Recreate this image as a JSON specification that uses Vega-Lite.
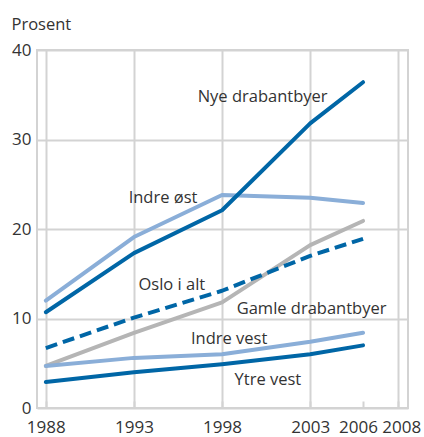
{
  "$schema": "https://vega.github.io/schema/vega-lite/v6.json",
  "width": 371,
  "height": 358,
  "autosize": "none",
  "padding": {"left": 37, "top": 50, "right": 16, "bottom": 29},
  "background": "white",
  "config": {
    "view": {"stroke": "#d3d3d3", "strokeWidth": 2},
    "font": "Open Sans"
  },
  "datasets": {
    "lines": [
      {"series": "Gamle drabantbyer", "year": 1988, "value": 4.7},
      {"series": "Gamle drabantbyer", "year": 1993, "value": 8.4},
      {"series": "Gamle drabantbyer", "year": 1998, "value": 11.8},
      {"series": "Gamle drabantbyer", "year": 2003, "value": 18.2},
      {"series": "Gamle drabantbyer", "year": 2006, "value": 20.9},
      {"series": "Indre øst", "year": 1988, "value": 12.0},
      {"series": "Indre øst", "year": 1993, "value": 19.1},
      {"series": "Indre øst", "year": 1998, "value": 23.8},
      {"series": "Indre øst", "year": 2003, "value": 23.5},
      {"series": "Indre øst", "year": 2006, "value": 22.9},
      {"series": "Indre vest", "year": 1988, "value": 4.7},
      {"series": "Indre vest", "year": 1993, "value": 5.6},
      {"series": "Indre vest", "year": 1998, "value": 6.0},
      {"series": "Indre vest", "year": 2003, "value": 7.4},
      {"series": "Indre vest", "year": 2006, "value": 8.4},
      {"series": "Nye drabantbyer", "year": 1988, "value": 10.7},
      {"series": "Nye drabantbyer", "year": 1993, "value": 17.3},
      {"series": "Nye drabantbyer", "year": 1998, "value": 22.1},
      {"series": "Nye drabantbyer", "year": 2003, "value": 31.8},
      {"series": "Nye drabantbyer", "year": 2006, "value": 36.4},
      {"series": "Ytre vest", "year": 1988, "value": 2.9},
      {"series": "Ytre vest", "year": 1993, "value": 4.0},
      {"series": "Ytre vest", "year": 1998, "value": 4.9},
      {"series": "Ytre vest", "year": 2003, "value": 6.0},
      {"series": "Ytre vest", "year": 2006, "value": 7.0},
      {"series": "Oslo i alt", "year": 1988, "value": 6.7},
      {"series": "Oslo i alt", "year": 1993, "value": 10.1},
      {"series": "Oslo i alt", "year": 1998, "value": 13.1},
      {"series": "Oslo i alt", "year": 2003, "value": 17.0},
      {"series": "Oslo i alt", "year": 2006, "value": 18.9}
    ],
    "labels": [
      {"label": "Nye drabantbyer", "x": 2000.3, "y": 34.2},
      {"label": "Indre øst", "x": 1994.65, "y": 22.9},
      {"label": "Oslo i alt", "x": 1995.15, "y": 13.15},
      {"label": "Gamle drabantbyer", "x": 2003.08, "y": 10.5},
      {"label": "Indre vest", "x": 1998.4, "y": 7.1},
      {"label": "Ytre vest", "x": 2000.6, "y": 2.55}
    ]
  },
  "encoding": {
    "x": {
      "field": "year",
      "type": "quantitative",
      "scale": {"domain": [1987.5, 2008.55], "nice": false, "zero": false},
      "axis": {
        "title": null,
        "values": [1988, 1993, 1998, 2003, 2006, 2008],
        "format": "d",
        "domain": false,
        "grid": true,
        "gridColor": "#d3d3d3",
        "gridWidth": 2,
        "gridOpacity": {"condition": {"test": "datum.value === 2006", "value": 0}, "value": 1},
        "ticks": true,
        "tickSize": -7,
        "tickColor": "#d3d3d3",
        "tickWidth": 2,
        "labelFontSize": 17,
        "labelColor": "#333333",
        "labelBaseline": "alphabetic",
        "labelPadding": 31,
        "labelFlush": false,
        "labelOverlap": false,
        "labelOffset": {"condition": [{"test": "datum.value === 2006", "value": -5}, {"test": "datum.value === 2008", "value": 3}], "value": 0}
      }
    },
    "y": {
      "field": "value",
      "type": "quantitative",
      "scale": {"domain": [0, 40], "nice": false},
      "axis": {
        "title": "Prosent",
        "titleAngle": 0,
        "titleAlign": "left",
        "titleBaseline": "alphabetic",
        "titleX": -26,
        "titleY": -21,
        "titleFontSize": 16.5,
        "titleFontWeight": "normal",
        "titleColor": "#333333",
        "values": [0, 10, 20, 30, 40],
        "domain": false,
        "ticks": false,
        "grid": true,
        "gridColor": "#d3d3d3",
        "gridWidth": 2,
        "labelFontSize": 17,
        "labelColor": "#333333",
        "labelPadding": 6
      }
    },
    "color": {
      "field": "series",
      "type": "nominal",
      "scale": {
        "domain": ["Gamle drabantbyer", "Indre øst", "Indre vest", "Nye drabantbyer", "Ytre vest", "Oslo i alt"],
        "range": ["#b5b5b5", "#8aaed8", "#8aaed8", "#0066a6", "#0066a6", "#0066a6"]
      },
      "legend": null
    }
  },
  "layer": [
    {
      "data": {"name": "lines"},
      "transform": [{"filter": "datum.series !== 'Oslo i alt'"}],
      "mark": {"type": "line", "strokeWidth": 4, "strokeCap": "round", "strokeJoin": "round"}
    },
    {
      "data": {"name": "lines"},
      "transform": [{"filter": "datum.series === 'Oslo i alt'"}],
      "mark": {"type": "line", "strokeWidth": 4, "strokeCap": "butt", "strokeJoin": "round", "strokeDash": [12, 6]}
    },
    {
      "data": {"name": "labels"},
      "mark": {"type": "text", "fontSize": 16.5, "color": "#333333", "align": "center", "baseline": "alphabetic", "font": "Open Sans"},
      "encoding": {
        "x": {"field": "x", "type": "quantitative"},
        "y": {"field": "y", "type": "quantitative"},
        "text": {"field": "label"},
        "color": {"value": "#333333"}
      }
    }
  ]
}
